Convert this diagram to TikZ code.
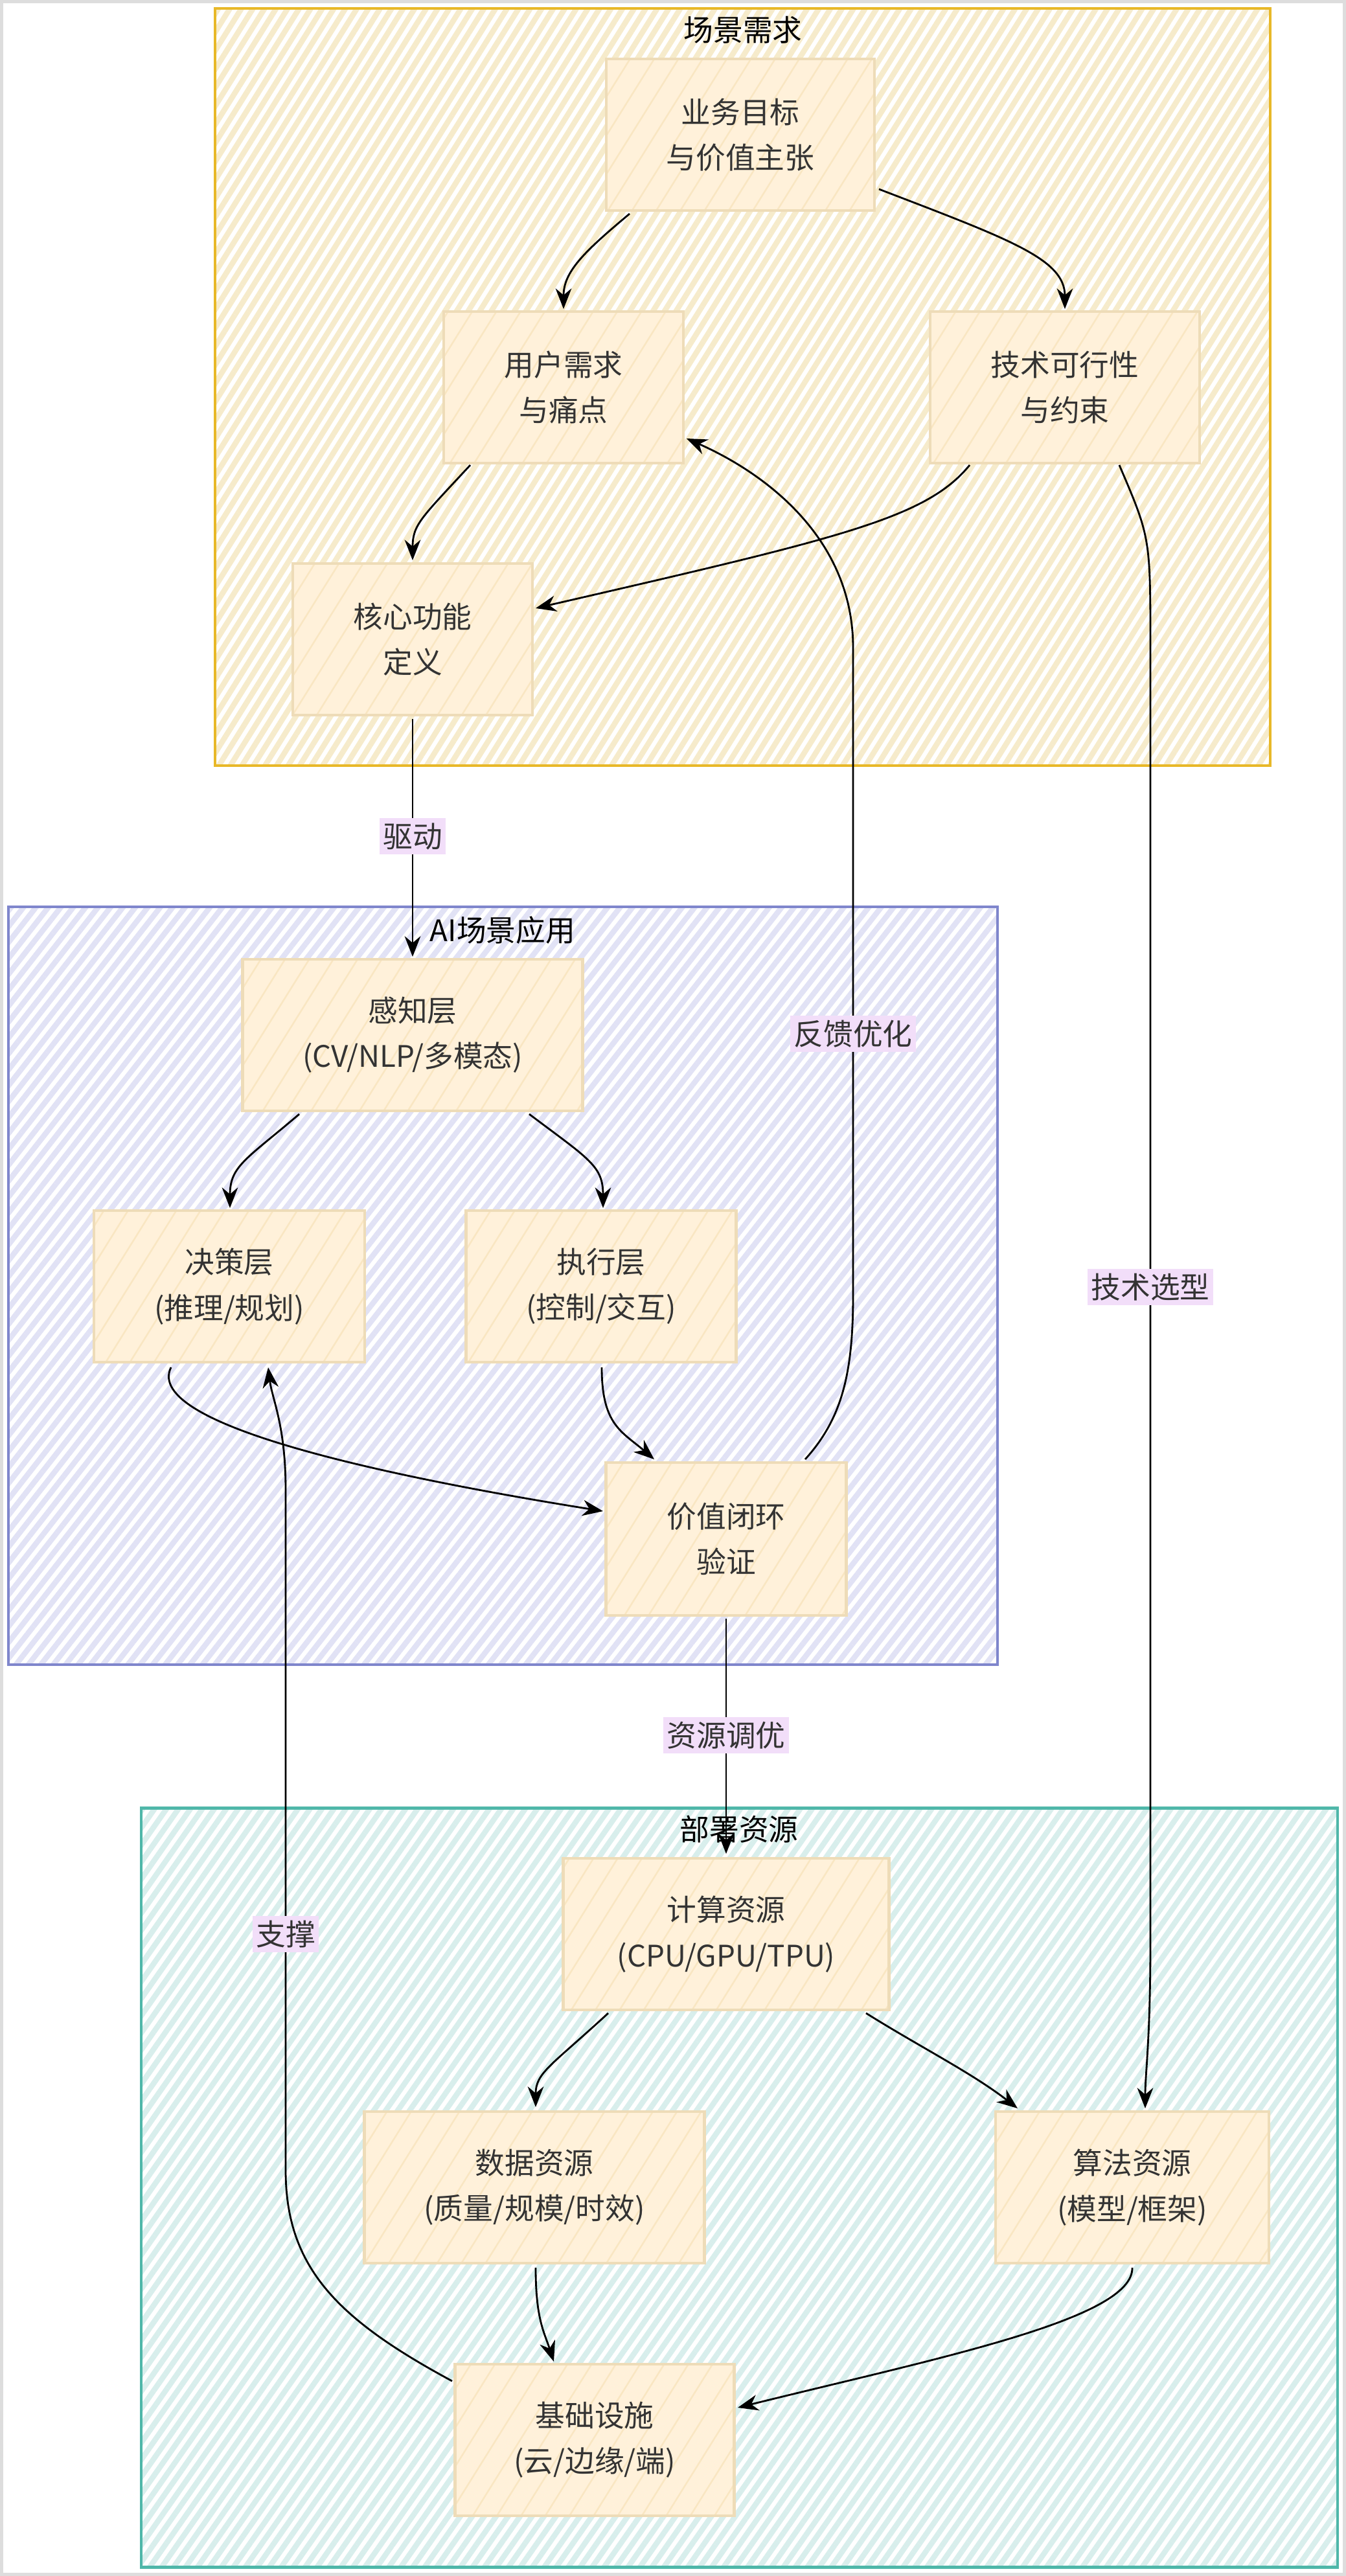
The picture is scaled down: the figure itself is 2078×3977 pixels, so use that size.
\documentclass[tikz,border=0pt]{standalone}
\usepackage{fontspec}
\setmainfont{Noto Sans CJK SC}
\usetikzlibrary{arrows.meta,patterns.meta,calc}
\definecolor{framegray}{HTML}{DDDDDD}
\definecolor{ybord}{HTML}{E8B828}
\definecolor{yfill}{HTML}{F6EBCB}
\definecolor{pbord}{HTML}{7F86CC}
\definecolor{pfill}{HTML}{E1E2F5}
\definecolor{tbord}{HTML}{4FB7A9}
\definecolor{tfill}{HTML}{D8EEEC}
\definecolor{nfill}{HTML}{FFF1DA}
\definecolor{nline}{HTML}{F9E6C2}
\definecolor{nbord}{HTML}{EEDCB8}
\definecolor{lblfill}{HTML}{F2DEF9}
\definecolor{txt}{HTML}{333333}
\begin{document}
\begin{tikzpicture}[x=0.01cm,y=-0.01cm,
  every node/.style={font=\fontsize{13pt}{20pt}\selectfont, text=txt},
  box/.style={draw=nbord, line width=1.3pt,
    preaction={fill=nfill},
    pattern={Lines[angle=58,distance=9pt,line width=0.7pt]}, pattern color=nline,
    align=center, minimum height=2.34cm, inner sep=0pt},
  clusterY/.style={pattern={Lines[angle=58,distance=4.3pt,line width=2.4pt]}, pattern color=yfill},
  clusterP/.style={pattern={Lines[angle=52,distance=4.3pt,line width=2.4pt]}, pattern color=pfill},
  clusterT/.style={pattern={Lines[angle=55,distance=4.3pt,line width=2.4pt]}, pattern color=tfill},
  ctitle/.style={text=black},
  edge/.style={draw=black, line width=0.8pt, -{Stealth[length=9pt,width=7pt]}},
  lbl/.style={fill=lblfill, inner xsep=1.5pt, inner ysep=2pt}
]
% background frame
\fill[framegray] (0,0) rectangle (2078,3977);
\fill[white] (5,5) rectangle (2073,3972);
\useasboundingbox (0,0) rectangle (2078,3977);

% clusters
\path[clusterY] (332,13) rectangle (1961,1182);
\draw[ybord, line width=1.4pt] (332,13) rectangle (1961,1182);
\path[clusterP] (13,1400) rectangle (1540,2570);
\draw[pbord, line width=1.4pt] (13,1400) rectangle (1540,2570);
\path[clusterT] (218,2791) rectangle (2065,3963);
\draw[tbord, line width=1.4pt] (218,2791) rectangle (2065,3963);

\node[ctitle] (t1) at (1147,46) {场景需求};
\node[ctitle] (t2) at (776,1436) {AI场景应用};
\node[ctitle] (t3) at (1141,2824) {部署资源};

% nodes
\node[box, minimum width=4.14cm] (biz) at (1143,208) {业务目标\\与价值主张};
\node[box, minimum width=3.70cm] (user) at (870,598) {用户需求\\与痛点};
\node[box, minimum width=4.16cm] (tech) at (1644,598) {技术可行性\\与约束};
\node[box, minimum width=3.70cm] (core) at (637,987) {核心功能\\定义};
\node[box, minimum width=5.25cm] (perc) at (637,1598) {感知层\\(CV/NLP/多模态)};
\node[box, minimum width=4.18cm] (dec) at (354,1986) {决策层\\(推理/规划)};
\node[box, minimum width=4.17cm] (exe) at (928,1986) {执行层\\(控制/交互)};
\node[box, minimum width=3.71cm, minimum height=2.36cm] (val) at (1121,2376) {价值闭环\\验证};
\node[box, minimum width=5.03cm] (comp) at (1121,2986) {计算资源\\(CPU/GPU/TPU)};
\node[box, minimum width=5.25cm] (data) at (825,3377) {数据资源\\(质量/规模/时效)};
\node[box, minimum width=4.22cm] (algo) at (1748,3377) {算法资源\\(模型/框架)};
\node[box, minimum width=4.31cm] (infra) at (918,3767) {基础设施\\(云/边缘/端)};

% edges
\draw[edge] ($(biz)+(-171,122)$) .. controls (900,390) and (870,420) .. ($(user)+(0,-121)$);
\draw[edge] ($(biz)+(214,84)$) .. controls (1560,370) and (1644,400) .. ($(tech)+(0,-121)$);
\draw[edge] ($(user)+(-144,120)$) .. controls (650,800) and (637,810) .. ($(core)+(0,-122)$);
\draw[edge] ($(tech)+(-147,120)$) .. controls (1430,800) and (1300,830) .. ($(core)+(190,-48)$);
\draw[edge] ($(core)+(0,123)$) -- ($(perc)+(0,-121)$);
\draw[edge] ($(tech)+(84,120)$) .. controls (1776,830) .. (1776,1000) -- (1776,3000) .. controls (1776,3150) and (1768,3200) .. ($(algo)+(20,-122)$);
\draw[edge] ($(perc)+(-175,122)$) .. controls (380,1790) and (355,1800) .. ($(dec)+(1,-121)$);
\draw[edge] ($(perc)+(180,122)$) .. controls (910,1790) and (931,1800) .. ($(exe)+(3,-121)$);
\draw[edge] ($(dec)+(-90,125)$) .. controls (220,2200) and (600,2280) .. ($(val)+(-190,-43)$);
\draw[edge] ($(exe)+(1,125)$) .. controls (929,2200) and (960,2210) .. ($(val)+(-111,-123)$);
\draw[edge] ($(val)+(122,-123)$) .. controls (1300,2190) and (1317,2120) .. (1317,2000) -- (1317,1000) .. controls (1317,830) and (1180,730) .. ($(user)+(190,79)$);
\draw[edge] ($(val)+(0,123)$) -- ($(comp)+(0,-124)$);
\draw[edge] ($(comp)+(-182,122)$) .. controls (850,3190) and (827,3200) .. ($(data)+(2,-124)$);
\draw[edge] ($(comp)+(216,122)$) .. controls (1420,3160) and (1500,3200) .. ($(algo)+(-177,-122)$);
\draw[edge] ($(data)+(2,124)$) .. controls (827,3580) and (840,3600) .. ($(infra)+(-63,-121)$);
\draw[edge] ($(algo)+(0,124)$) .. controls (1750,3580) and (1450,3640) .. ($(infra)+(221,-50)$);
\draw[edge] ($(infra)+(-220,-91)$) .. controls (520,3580) and (441,3500) .. (441,3350) -- (441,2300) .. controls (441,2200) and (420,2160) .. ($(dec)+(60,125)$);

% edge labels
\node[lbl] (l1) at (637,1291) {驱动};
\node[lbl] (l2) at (1317,1596) {反馈优化};
\node[lbl] (l3) at (1776,1987) {技术选型};
\node[lbl] (l4) at (1121,2679) {资源调优};
\node[lbl] (l5) at (441,2986) {支撑};
\end{tikzpicture}
\end{document}
